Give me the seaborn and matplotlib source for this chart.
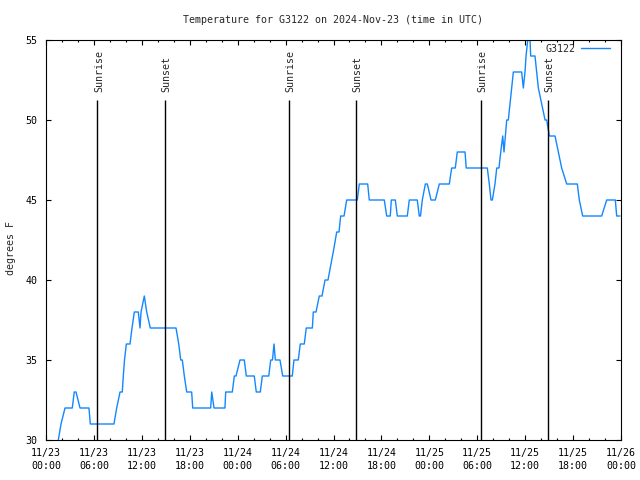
import pandas as pd
import matplotlib.pyplot as plt
import seaborn as sns

# hours since 2024-11-23 00:00 UTC and temperature (F)
hours = [1.54, 1.88, 2.38, 3.29, 3.54, 3.76, 4.26, 5.38, 5.55, 8.51, 8.85, 9.27, 9.55, 9.68,
         9.83, 10.06, 10.52, 10.77, 11.06, 11.56, 11.77, 11.90, 12.31, 12.61, 13.06, 16.28,
         16.62, 16.87, 17.07, 17.32, 17.62, 18.24, 18.37, 20.62, 20.75, 21.04, 22.41, 22.50,
         23.33, 23.58, 23.79, 24.29, 24.83, 25.08, 26.08, 26.33, 26.83, 27.09, 27.89, 28.14,
         28.36, 28.55, 28.72, 28.89, 29.30, 29.64, 30.84, 31.05, 31.59, 31.84, 32.34, 32.59,
         33.35, 33.47, 33.81, 34.22, 34.56, 34.94, 35.31, 35.69, 36.06, 36.40, 36.69, 36.90,
         37.32, 37.65, 38.98, 39.23, 40.28, 40.48, 42.36, 42.66, 43.11, 43.24, 43.74, 43.99,
         45.24, 45.49, 46.49, 46.74, 46.89, 47.12, 47.50, 47.75, 48.21, 48.75, 49.25, 50.50,
         50.80, 51.25, 51.50, 52.47, 52.62, 55.26, 55.51, 55.72, 55.89, 56.22, 56.44, 56.72,
         56.94, 57.19, 57.35, 57.69, 57.89, 58.10, 58.31, 58.52, 59.56, 59.77, 59.98, 60.11,
         60.32, 60.48, 60.61, 60.69, 61.23, 61.44, 61.65, 62.07, 62.49, 62.70, 63.03, 63.74,
         64.15, 64.57, 65.20, 66.53, 66.78, 67.20, 69.58, 70.21, 71.29, 71.46, 71.87]
temps = [30, 31, 32, 32, 33, 33, 32, 32, 31, 31, 32, 33, 33, 34,
         35, 36, 36, 37, 38, 38, 37, 38, 39, 38, 37, 37,
         36, 35, 35, 34, 33, 33, 32, 32, 33, 32, 32, 33,
         33, 34, 34, 35, 35, 34, 34, 33, 33, 34, 34, 35,
         35, 36, 35, 35, 35, 34, 34, 35, 35, 36, 36, 37,
         37, 38, 38, 39, 39, 40, 40, 41, 42, 43, 43, 44,
         44, 45, 45, 46, 46, 45, 45, 44, 44, 45, 45, 44,
         44, 45, 45, 44, 44, 45, 46, 46, 45, 45, 46, 46,
         47, 47, 48, 48, 47, 47, 46, 45, 45, 46, 47, 47,
         48, 49, 48, 50, 50, 51, 52, 53, 53, 52, 53, 54,
         55, 56, 55, 54, 54, 53, 52, 51, 50, 50, 49, 49,
         48, 47, 46, 46, 45, 44, 44, 45, 45, 44, 44]

sunrise = [6.43, 30.45, 54.47]
sunset = [14.90, 38.85, 62.87]

x_ticks = [0, 6, 12, 18, 24, 30, 36, 42, 48, 54, 60, 66, 72]
x_tick_labels = ['11/23\n00:00', '11/23\n06:00', '11/23\n12:00', '11/23\n18:00',
                 '11/24\n00:00', '11/24\n06:00', '11/24\n12:00', '11/24\n18:00',
                 '11/25\n00:00', '11/25\n06:00', '11/25\n12:00', '11/25\n18:00',
                 '11/26\n00:00']
y_ticks = [30, 35, 40, 45, 50, 55]

df = pd.DataFrame({'hours': hours, 'temp': temps})

sns.set_style('ticks')
plt.rcParams['font.family'] = ['DejaVu Sans Mono', 'DejaVu Sans']
plt.rcParams['font.size'] = 7.2

fig = plt.figure(figsize=(6.4, 4.8), dpi=100)
ax = fig.add_axes([46 / 640, 40 / 480, 575 / 640, 400 / 480])

sns.lineplot(x='hours', y='temp', data=df, color='#1287ff', lw=1.0, label='G3122', ax=ax)

for t in sunrise:
    ax.vlines(t, 30, 51.25, color='black', lw=1.0)
    ax.text(t + 0.2, 51.75, 'Sunrise', rotation=90, ha='center', va='bottom', fontsize=7.2)
for t in sunset:
    ax.vlines(t, 30, 51.25, color='black', lw=1.0)
    ax.text(t + 0.2, 51.75, 'Sunset', rotation=90, ha='center', va='bottom', fontsize=7.2)

ax.set_xlim(0, 72)
ax.set_ylim(30, 55)
ax.set_xticks(x_ticks)
ax.set_xticklabels(x_tick_labels, linespacing=1.35)
ax.set_xticks(range(0, 73, 2), minor=True)
ax.set_yticks(y_ticks)
ax.tick_params(axis='both', which='both', direction='in', top=True, right=True,
               color='black', width=0.8, labelsize=7.2, labelcolor='black')
ax.tick_params(axis='both', which='major', length=3.3)
ax.tick_params(axis='x', which='minor', length=1.7)
ax.tick_params(axis='x', which='major', pad=6)
ax.tick_params(axis='y', which='major', pad=6)
for s in ax.spines.values():
    s.set_color('black')
    s.set_linewidth(0.8)

ax.set_xlabel('')
ax.set_ylabel('degrees F', fontsize=7.2)
ax.yaxis.set_label_coords(-0.052, 0.48)
fig.text(0.521, 1 - 20 / 480, 'Temperature for G3122 on 2024-Nov-23 (time in UTC)',
         ha='center', va='center', fontsize=7.2)

ax.legend(loc='upper right', bbox_to_anchor=(0.981, 0.99), frameon=False, markerfirst=False,
          handlelength=2.9, handletextpad=0.6, borderpad=0, borderaxespad=0, fontsize=7.2)

fig.savefig('out.png', dpi=100)
